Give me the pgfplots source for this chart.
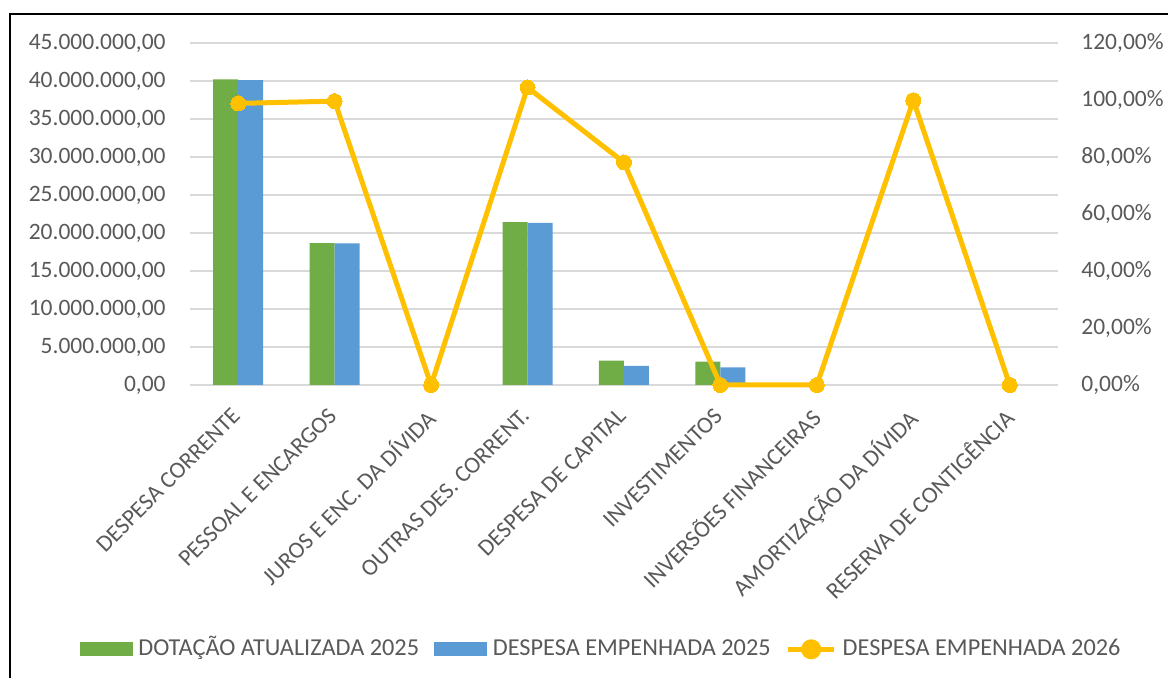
\documentclass[border=0pt]{standalone}
\usepackage{pgfplots}
\pgfplotsset{compat=1.18}
\usepackage{fontspec}
\setmainfont{Carlito}
\definecolor{cgreen}{HTML}{70AD47}
\definecolor{cblue}{HTML}{5B9BD5}
\definecolor{cyel}{HTML}{FFC000}
\definecolor{ctext}{HTML}{595959}
\definecolor{cgrid}{HTML}{D9D9D9}
\newcommand{\cfont}{\fontsize{11.75}{14}\selectfont}
\newcommand{\lfont}{\fontsize{12.15}{14}\selectfont}
\begin{document}
\cfont
\begin{tikzpicture}
\useasboundingbox (0,0) rectangle (584pt,339pt);
\draw[line width=1pt] (5pt,0) -- (5pt,332pt) -- (584pt,332pt);
\begin{axis}[
  at={(95pt,146.5pt)}, anchor=south west,
  width=434pt, height=171pt, scale only axis,
  xmin=-0.5, xmax=8.5, ymin=0, ymax=45000000,
  ybar=0pt, bar width=12.5pt,
  axis line style={draw=none},
  major tick length=0pt,
  ymajorgrids, grid style={cgrid, line width=0.7pt},
  ytick={0,5000000,10000000,15000000,20000000,25000000,30000000,35000000,40000000,45000000},
  yticklabels={{0,00},{5.000.000,00},{10.000.000,00},{15.000.000,00},{20.000.000,00},{25.000.000,00},{30.000.000,00},{35.000.000,00},{40.000.000,00},{45.000.000,00}},
  scaled y ticks=false,
  yticklabel style={anchor=east, inner sep=0pt, xshift=-12pt, text=ctext, font=\cfont},
  xtick={0,1,2,3,4,5,6,7,8},
  xticklabels={DESPESA CORRENTE,PESSOAL E ENCARGOS,JUROS E ENC. DA DÍVIDA,OUTRAS DES. CORRENT.,DESPESA DE CAPITAL,INVESTIMENTOS,INVERSÕES FINANCEIRAS,AMORTIZAÇÃO DA DÍVIDA,RESERVA DE CONTIGÊNCIA},
  xticklabel style={rotate=45, anchor=north east, inner sep=0pt, xshift=-10.2pt, yshift=-4.8pt, text=ctext, font=\cfont},
]
\addplot[fill=cgreen, draw=none] coordinates {(0,40230000) (1,18670000) (3,21430000) (4,3200000) (5,3070000)};
\addplot[fill=cblue, draw=none] coordinates {(0,40100000) (1,18630000) (3,21340000) (4,2500000) (5,2330000)};
\end{axis}
\begin{axis}[
  at={(95pt,146.5pt)}, anchor=south west,
  width=434pt, height=171pt, scale only axis,
  xmin=-0.5, xmax=8.5, ymin=0, ymax=120,
  axis x line=none,
  axis y line*=right,
  axis line style={draw=none},
  major tick length=0pt,
  clip=false,
  ytick={0,20,40,60,80,100,120},
  yticklabels={{0,00\%},{20,00\%},{40,00\%},{60,00\%},{80,00\%},{100,00\%},{120,00\%}},
  yticklabel style={anchor=west, inner sep=0pt, xshift=11.5pt, text=ctext, font=\cfont},
  legend columns=3,
  legend style={at={(0.4724,-0.768)}, anchor=center, draw=none, fill=none,
    font=\lfont, text=ctext,
    nodes={inner sep=0pt, anchor=base west},
    /tikz/every odd column/.append style={column sep=3pt},
    /tikz/every even column/.append style={column sep=7.5pt}},
]
\addlegendimage{legend image code/.code={\fill[cgreen] (0pt,-0.25pt) rectangle (26pt,6.25pt);}}
\addlegendentry{DOTAÇÃO ATUALIZADA 2025}
\addlegendimage{legend image code/.code={\fill[cblue] (0pt,-0.25pt) rectangle (26pt,6.25pt);}}
\addlegendentry{DESPESA EMPENHADA 2025}
\addplot[cyel, line width=2.5pt, mark=*, mark size=3.75pt, mark options={fill=cyel, draw=cyel, line width=0pt},
  legend image code/.code={\draw[cyel, line width=2.5pt] (0pt,3pt) -- (23pt,3pt); \fill[cyel] (11.5pt,3pt) circle (3.75pt);}]
  coordinates {(0,98.8) (1,99.6) (2,0) (3,104.4) (4,78.1) (5,0) (6,0) (7,99.9) (8,0)};
\addlegendentry{DESPESA EMPENHADA 2026}
\end{axis}
\end{tikzpicture}
\end{document}
